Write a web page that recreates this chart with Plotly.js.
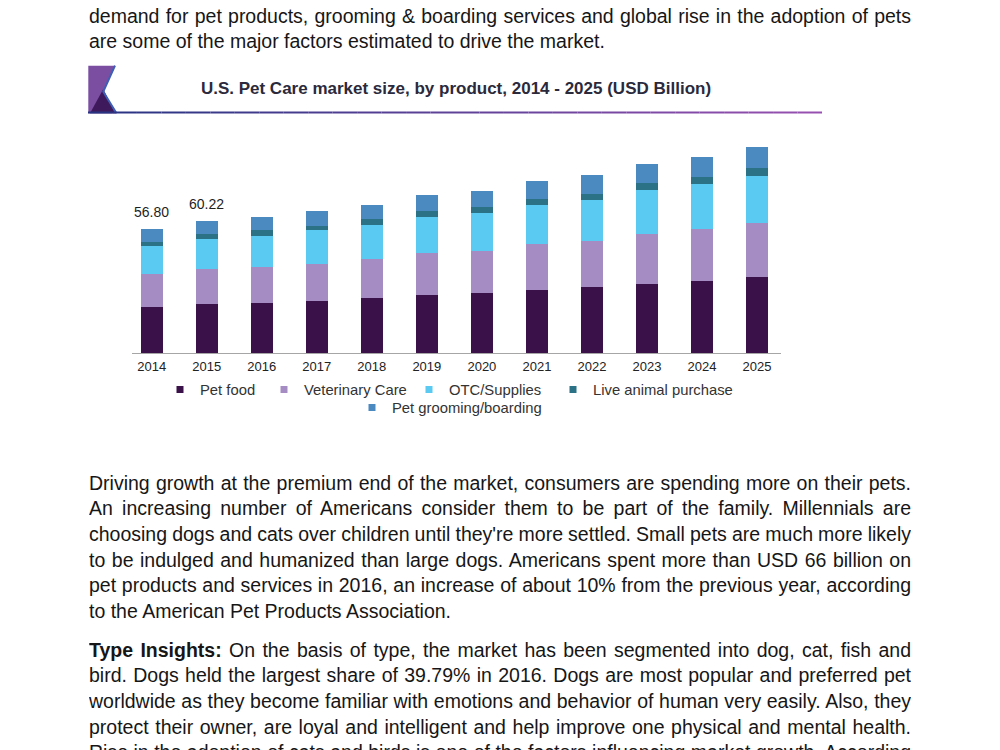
<!DOCTYPE html>
<html><head><meta charset="utf-8">
<script src="https://cdn.plot.ly/plotly-3.0.1.min.js"></script>
<style>
html,body{margin:0;padding:0;background:#fff;width:1000px;height:750px;overflow:hidden;}
.p{position:absolute;left:89px;width:822px;font-family:"Liberation Sans",Arial,Helvetica,sans-serif;font-size:19.5px;line-height:25.7px;color:#161616;}
.l{height:25.7px;text-align:justify;text-align-last:justify;overflow:hidden;word-spacing:-3px;}
.l.last{text-align-last:left;word-spacing:0;}
#chart{position:absolute;left:0;top:55px;width:1000px;height:385px;}
</style></head>
<body>
<div class="p" style="top:3.5px">
<div class="l">demand for pet products, grooming &amp; boarding services and global rise in the adoption of pets</div>
<div class="l last">are some of the major factors estimated to drive the market.</div>
</div>
<div class="p" style="top:470.5px">
<div class="l">Driving growth at the premium end of the market, consumers are spending more on their pets.</div>
<div class="l">An increasing number of Americans consider them to be part of the family. Millennials are</div>
<div class="l">choosing dogs and cats over children until they're more settled. Small pets are much more likely</div>
<div class="l">to be indulged and humanized than large dogs. Americans spent more than USD 66 billion on</div>
<div class="l">pet products and services in 2016, an increase of about 10% from the previous year, according</div>
<div class="l last">to the American Pet Products Association.</div>
</div>
<div class="p" style="top:637.5px">
<div class="l"><b>Type Insights:</b> On the basis of type, the market has been segmented into dog, cat, fish and</div>
<div class="l">bird. Dogs held the largest share of 39.79% in 2016. Dogs are most popular and preferred pet</div>
<div class="l">worldwide as they become familiar with emotions and behavior of human very easily. Also, they</div>
<div class="l">protect their owner, are loyal and intelligent and help improve one physical and mental health.</div>
<div class="l">Rise in the adoption of cats and birds is one of the factors influencing market growth. According</div>
</div>
<div id="chart"></div>
<script>
// ---- data ----
const years = ['2014','2015','2016','2017','2018','2019','2020','2021','2022','2023','2024','2025'];
const petFood        = [20.8, 22.5, 23.0, 23.9, 25.1, 26.5, 27.3, 28.9, 30.0, 31.7, 32.7, 34.7];
const veterinaryCare = [15.1, 15.9, 16.3, 16.9, 18.0, 19.2, 19.3, 20.8, 21.3, 22.8, 23.9, 24.8];
const otcSupplies    = [12.9, 13.6, 14.2, 15.2, 15.5, 16.4, 17.4, 17.7, 18.7, 19.8, 20.7, 21.3];
const liveAnimal     = [2.0, 2.2, 2.6, 2.1, 2.4, 2.6, 2.6, 2.9, 2.7, 3.3, 2.9, 3.8];
const grooming       = [6.0, 6.02, 6.1, 6.7, 6.8, 7.3, 7.4, 8.2, 8.5, 8.7, 9.1, 9.4];
const totalLabels    = ['56.80', '60.22', '', '', '', '', '', '', '', '', '', ''];
const seriesNames = ['Pet food', 'Veterinary Care', 'OTC/Supplies', 'Live animal purchase', 'Pet grooming/boarding'];
const chartTitle = 'U.S. Pet Care market size, by product, 2014 - 2025 (USD Billion)';

// ---- styling / layout ----
const colors = ['#3a1249', '#a58dc3', '#5bcaf2', '#2b7286', '#4b89c1'];
const series = [petFood, veterinaryCare, otcSupplies, liveAnimal, grooming];
const FONT = '"Liberation Sans", Arial, Helvetica, sans-serif';
const W = 1000, H = 385, DIVTOP = 55, ML = 132, MR = 219, MT = 85, MB = 87;
const plotW = W - ML - MR, plotH = H - MT - MB;
const px = x => (x - ML) / plotW;
const py = y => (H - MB - (y - DIVTOP)) / plotH;

// legend key positions (page pixels: left edge of each legend box, row centre)
const legendIds = ['legend', 'legend2', 'legend3', 'legend4', 'legend5'];
const legendPos = [[160, 390], [264, 390], [409, 390], [553, 390], [352, 408]];

const traces = [];
series.forEach((vals, i) => {
  traces.push({
    type: 'bar', x: years, y: vals, name: seriesNames[i],
    marker: {color: colors[i]}, showlegend: false, hoverinfo: 'skip'
  });
});
// legend entries (small square keys)
series.forEach((vals, i) => {
  traces.push({
    type: 'scatter', mode: 'markers', x: [null], y: [null], name: seriesNames[i],
    marker: {symbol: 'square', size: 7, color: colors[i]},
    legend: legendIds[i], hoverinfo: 'skip'
  });
});

const totals = years.map((_, j) => series.reduce((s, arr) => s + arr[j], 0));
const annotations = [];
years.forEach((yr, j) => {
  if (totalLabels[j]) {
    annotations.push({
      xref: 'x', yref: 'y', x: j, y: totals[j], text: totalLabels[j], showarrow: false,
      xanchor: 'center', yanchor: 'bottom', yshift: 7,
      font: {family: FONT, size: 14, color: '#1e1e1e'}
    });
  }
});

// header graphics: logo + gradient rule
const shapes = [];
const path = pts => 'M ' + pts.map(p => px(p[0]) + ',' + py(p[1])).join(' L ') + ' Z';
shapes.push({type: 'path', xref: 'paper', yref: 'paper', path: path([[88.3,65.7],[115,65.7],[103.3,91.7],[116.5,113.3],[88.3,113.3]]), fillcolor: '#7b4ea2', line: {width: 0}});
shapes.push({type: 'path', xref: 'paper', yref: 'paper', path: path([[90,113.3],[103.3,89],[115,113.3]]), fillcolor: '#3e1a5c', line: {width: 0}});
shapes.push({type: 'path', xref: 'paper', yref: 'paper', path: 'M ' + px(115) + ',' + py(65.7) + ' L ' + px(103.3) + ',' + py(91.7) + ' L ' + px(116.5) + ',' + py(113.3), line: {color: '#3d5fb5', width: 2}});
const c0 = [40, 52, 130], c1 = [150, 80, 175];
const N = 30, x0 = 88, x1 = 822;
for (let k = 0; k < N; k++) {
  const t = k / (N - 1);
  const c = c0.map((v, q) => Math.round(v + (c1[q] - v) * t));
  shapes.push({type: 'line', xref: 'paper', yref: 'paper',
    x0: px(x0 + (x1 - x0) * k / N), x1: px(x0 + (x1 - x0) * (k + 1) / N),
    y0: py(112.5), y1: py(112.5), line: {color: 'rgb(' + c.join(',') + ')', width: 2}});
}

const layout = {
  width: W, height: H,
  margin: {l: ML, r: MR, t: MT, b: MB, pad: 0},
  paper_bgcolor: 'rgba(0,0,0,0)', plot_bgcolor: 'rgba(0,0,0,0)',
  barmode: 'stack', bargap: 0.6,
  font: {family: FONT, color: '#222'},
  title: {text: chartTitle, xref: 'container', x: 0.456, xanchor: 'center',
          yref: 'container', y: 1 - (88 - DIVTOP) / H, yanchor: 'middle',
          font: {family: FONT, size: 17, weight: 'bold', color: '#2b2a3c'}},
  xaxis: {type: 'category', range: [-0.358, 11.436], showgrid: false, zeroline: false,
          showline: true, linecolor: '#a6a6a6', linewidth: 1, ticks: '', fixedrange: true,
          tickfont: {family: FONT, size: 13, color: '#222'}, ticklabelstandoff: 1},
  yaxis: {range: [0, plotH / 2.19], visible: false, showgrid: false, zeroline: false, fixedrange: true},
  annotations: annotations,
  shapes: shapes
};
legendIds.forEach((id, i) => {
  layout[id] = {orientation: 'h', xanchor: 'left', yanchor: 'middle',
    x: px(legendPos[i][0]), y: py(legendPos[i][1]),
    font: {family: FONT, size: 14.8, color: '#333'}, bgcolor: 'rgba(0,0,0,0)', itemclick: false};
});
Plotly.newPlot('chart', traces, layout, {displayModeBar: false, staticPlot: true});
</script>
</body></html>
